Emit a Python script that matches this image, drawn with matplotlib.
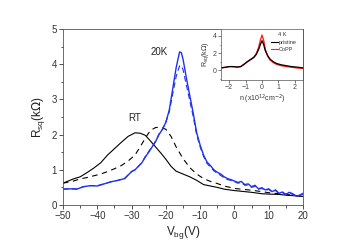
import matplotlib.pyplot as plt
import numpy as np
from matplotlib.ticker import MultipleLocator

# main panel: sheet resistance vs back-gate voltage (RT solid / dashed)
vbg_rt = [-50, -47, -45, -43, -41, -39, -37, -35, -33, -31, -29, -27.5, -26, -24.5, -23,
          -21.5, -20, -18.5, -17, -15, -13, -11, -9, -7, -5, -3, 0, 3, 5, 8, 10, 13, 15,
          18, 20]
rt_solid = [0.62, 0.74, 0.8, 0.92, 1.05, 1.2, 1.42, 1.6, 1.78, 1.95, 2.05, 2.04, 1.98, 1.82,
            1.65, 1.48, 1.3, 1.1, 0.96, 0.88, 0.8, 0.7, 0.58, 0.54, 0.5, 0.45, 0.41, 0.38,
            0.36, 0.32, 0.31, 0.3, 0.28, 0.26, 0.24]
rt_dash = [0.62, 0.68, 0.74, 0.78, 0.83, 0.88, 0.95, 1.03, 1.12, 1.25, 1.42, 1.65, 1.9, 2.12,
           2.2, 2.21, 2.15, 1.95, 1.65, 1.32, 1.06, 0.88, 0.75, 0.67, 0.61, 0.54, 0.47, 0.44,
           0.42, 0.38, 0.35, 0.32, 0.3, 0.27, 0.25]

# 20 K solid / dashed
vbg_20k = [-50, -48, -46, -44, -42, -40, -38, -36, -34, -32, -30, -29, -28, -27, -26, -25,
           -24, -23, -22, -21, -20, -19, -18, -17, -16, -15.5, -15, -14, -13, -12, -11, -10,
           -9, -8, -7, -6, -5, -4, -3, -2, -1, 0, 1, 2, 3, 4, 5, 6, 7, 8, 9, 10, 11, 12, 13,
           14, 15, 16, 17, 18, 19, 20]
k20_solid = [0.45, 0.46, 0.45, 0.52, 0.55, 0.54, 0.6, 0.66, 0.7, 0.75, 0.95, 1.0, 1.1, 1.2,
             1.36, 1.5, 1.65, 1.8, 2.0, 2.15, 2.35, 2.7, 3.3, 3.9, 4.35, 4.33, 4.15, 3.6,
             3.1, 2.6, 2.05, 1.7, 1.42, 1.22, 1.12, 1.0, 0.93, 0.88, 0.8, 0.75, 0.72, 0.68,
             0.64, 0.67, 0.58, 0.6, 0.52, 0.56, 0.46, 0.49, 0.43, 0.46, 0.38, 0.43, 0.33,
             0.37, 0.3, 0.36, 0.32, 0.25, 0.28, 0.33]
k20_dash = [0.45, 0.46, 0.46, 0.52, 0.55, 0.55, 0.6, 0.66, 0.7, 0.76, 0.95, 1.0, 1.1, 1.2,
            1.38, 1.52, 1.66, 1.82, 2.02, 2.15, 2.35, 2.65, 3.15, 3.65, 3.95, 3.96, 3.85,
            3.4, 2.95, 2.5, 1.98, 1.65, 1.38, 1.18, 1.08, 0.97, 0.9, 0.84, 0.77, 0.72, 0.7,
            0.66, 0.62, 0.64, 0.56, 0.57, 0.5, 0.53, 0.45, 0.47, 0.42, 0.44, 0.37, 0.41,
            0.33, 0.35, 0.3, 0.34, 0.3, 0.26, 0.27, 0.3]

# inset: 4 K, R_sq vs carrier density
n_inset = [-2.5, -2.2, -2.0, -1.8, -1.5, -1.3, -1.1, -0.9, -0.7, -0.5, -0.35, -0.2, -0.1, 0.0,
           0.1, 0.2, 0.35, 0.5, 0.7, 0.9, 1.2, 1.5, 1.8, 2.1, 2.5]
r_pristine = [0.3, 0.38, 0.45, 0.45, 0.4, 0.45, 0.7, 1.0, 1.25, 1.5, 1.85, 2.45, 3.0, 3.45,
              3.0, 2.3, 1.7, 1.3, 1.0, 0.8, 0.65, 0.55, 0.45, 0.4, 0.3]
r_copp = [0.3, 0.38, 0.45, 0.45, 0.4, 0.45, 0.72, 1.02, 1.28, 1.55, 1.95, 2.7, 3.5, 4.1,
          3.5, 2.45, 1.65, 1.2, 0.9, 0.7, 0.55, 0.45, 0.38, 0.3, 0.25]

plt.rcParams['font.family'] = ['Liberation Sans', 'DejaVu Sans']

fig = plt.figure(figsize=(3.53, 2.46), dpi=100)
ax = fig.add_axes([63 / 353, 1 - 205 / 246, 240 / 353, 176 / 246])

blue = '#2030f0'
ax.plot(vbg_rt, rt_solid, color='black', lw=0.8)
ax.plot(vbg_rt, rt_dash, color='black', lw=0.8, ls=(0, (5, 4)))
ax.plot(vbg_20k, k20_dash, color=blue, lw=0.8, ls=(0, (5, 3)))
ax.plot(vbg_20k, k20_solid, color=blue, lw=1.0)

ax.set_xlim(-50, 20)
ax.set_ylim(0, 5)
ax.xaxis.set_major_locator(MultipleLocator(10))
ax.xaxis.set_minor_locator(MultipleLocator(5))
ax.yaxis.set_major_locator(MultipleLocator(1))
ax.yaxis.set_minor_locator(MultipleLocator(0.5))
ax.tick_params(which='both', direction='out', labelsize=7, colors='#333333', width=0.6)
ax.tick_params(which='major', length=3, pad=1.5)
ax.tick_params(which='minor', length=1.8)
for s in ax.spines.values():
    s.set_linewidth(0.6)
    s.set_color('#555555')

ax.set_xlabel('V$_{\\mathregular{bg}}$(V)', fontsize=8.5, labelpad=2, color='#222222')
ax.set_ylabel('R$_{\\mathregular{sq}}$(k$\\Omega$)', fontsize=8.5, labelpad=3, color='#222222')
ax.text(-31, 2.4, 'RT', fontsize=7, color='#222222')
ax.text(-24.5, 4.27, '20K', fontsize=7, color='#222222')

# inset
ins = fig.add_axes([221 / 353, 1 - 80 / 246, 82 / 353, 51 / 246])
ins.plot(n_inset, r_copp, color='#ff2020', lw=1.0)
ins.plot(n_inset, r_pristine, color='black', lw=0.9)
ins.set_xlim(-2.5, 2.5)
ins.set_ylim(-1.1, 4.8)
ins.xaxis.set_major_locator(MultipleLocator(1))
ins.yaxis.set_major_locator(MultipleLocator(2))
ins.yaxis.set_minor_locator(MultipleLocator(1))
ins.tick_params(which='both', direction='out', labelsize=5, colors='#444444', width=0.5,
                pad=1)
ins.tick_params(which='major', length=2)
ins.tick_params(which='minor', length=1)
for s in ins.spines.values():
    s.set_linewidth(0.5)
    s.set_color('#555555')
ins.set_xlabel('n (x10$^{12}$cm$^{-2}$)', fontsize=5, labelpad=1, color='#333333')
ins.set_ylabel('R$_{\\mathregular{sq}}$(k$\\Omega$)', fontsize=5, labelpad=1, color='#333333')
ins.text(0.95, 3.95, '4 K', fontsize=4, color='#333333')
ins.plot([0.55, 0.95], [3.3, 3.3], color='black', lw=0.8)
ins.text(1.0, 3.1, 'pristine', fontsize=4, color='#333333')
ins.plot([0.55, 0.95], [2.45, 2.45], color='#ff2020', lw=0.8)
ins.text(1.0, 2.25, 'CoPP', fontsize=4, color='#333333')

fig.savefig('out.png', dpi=100)
